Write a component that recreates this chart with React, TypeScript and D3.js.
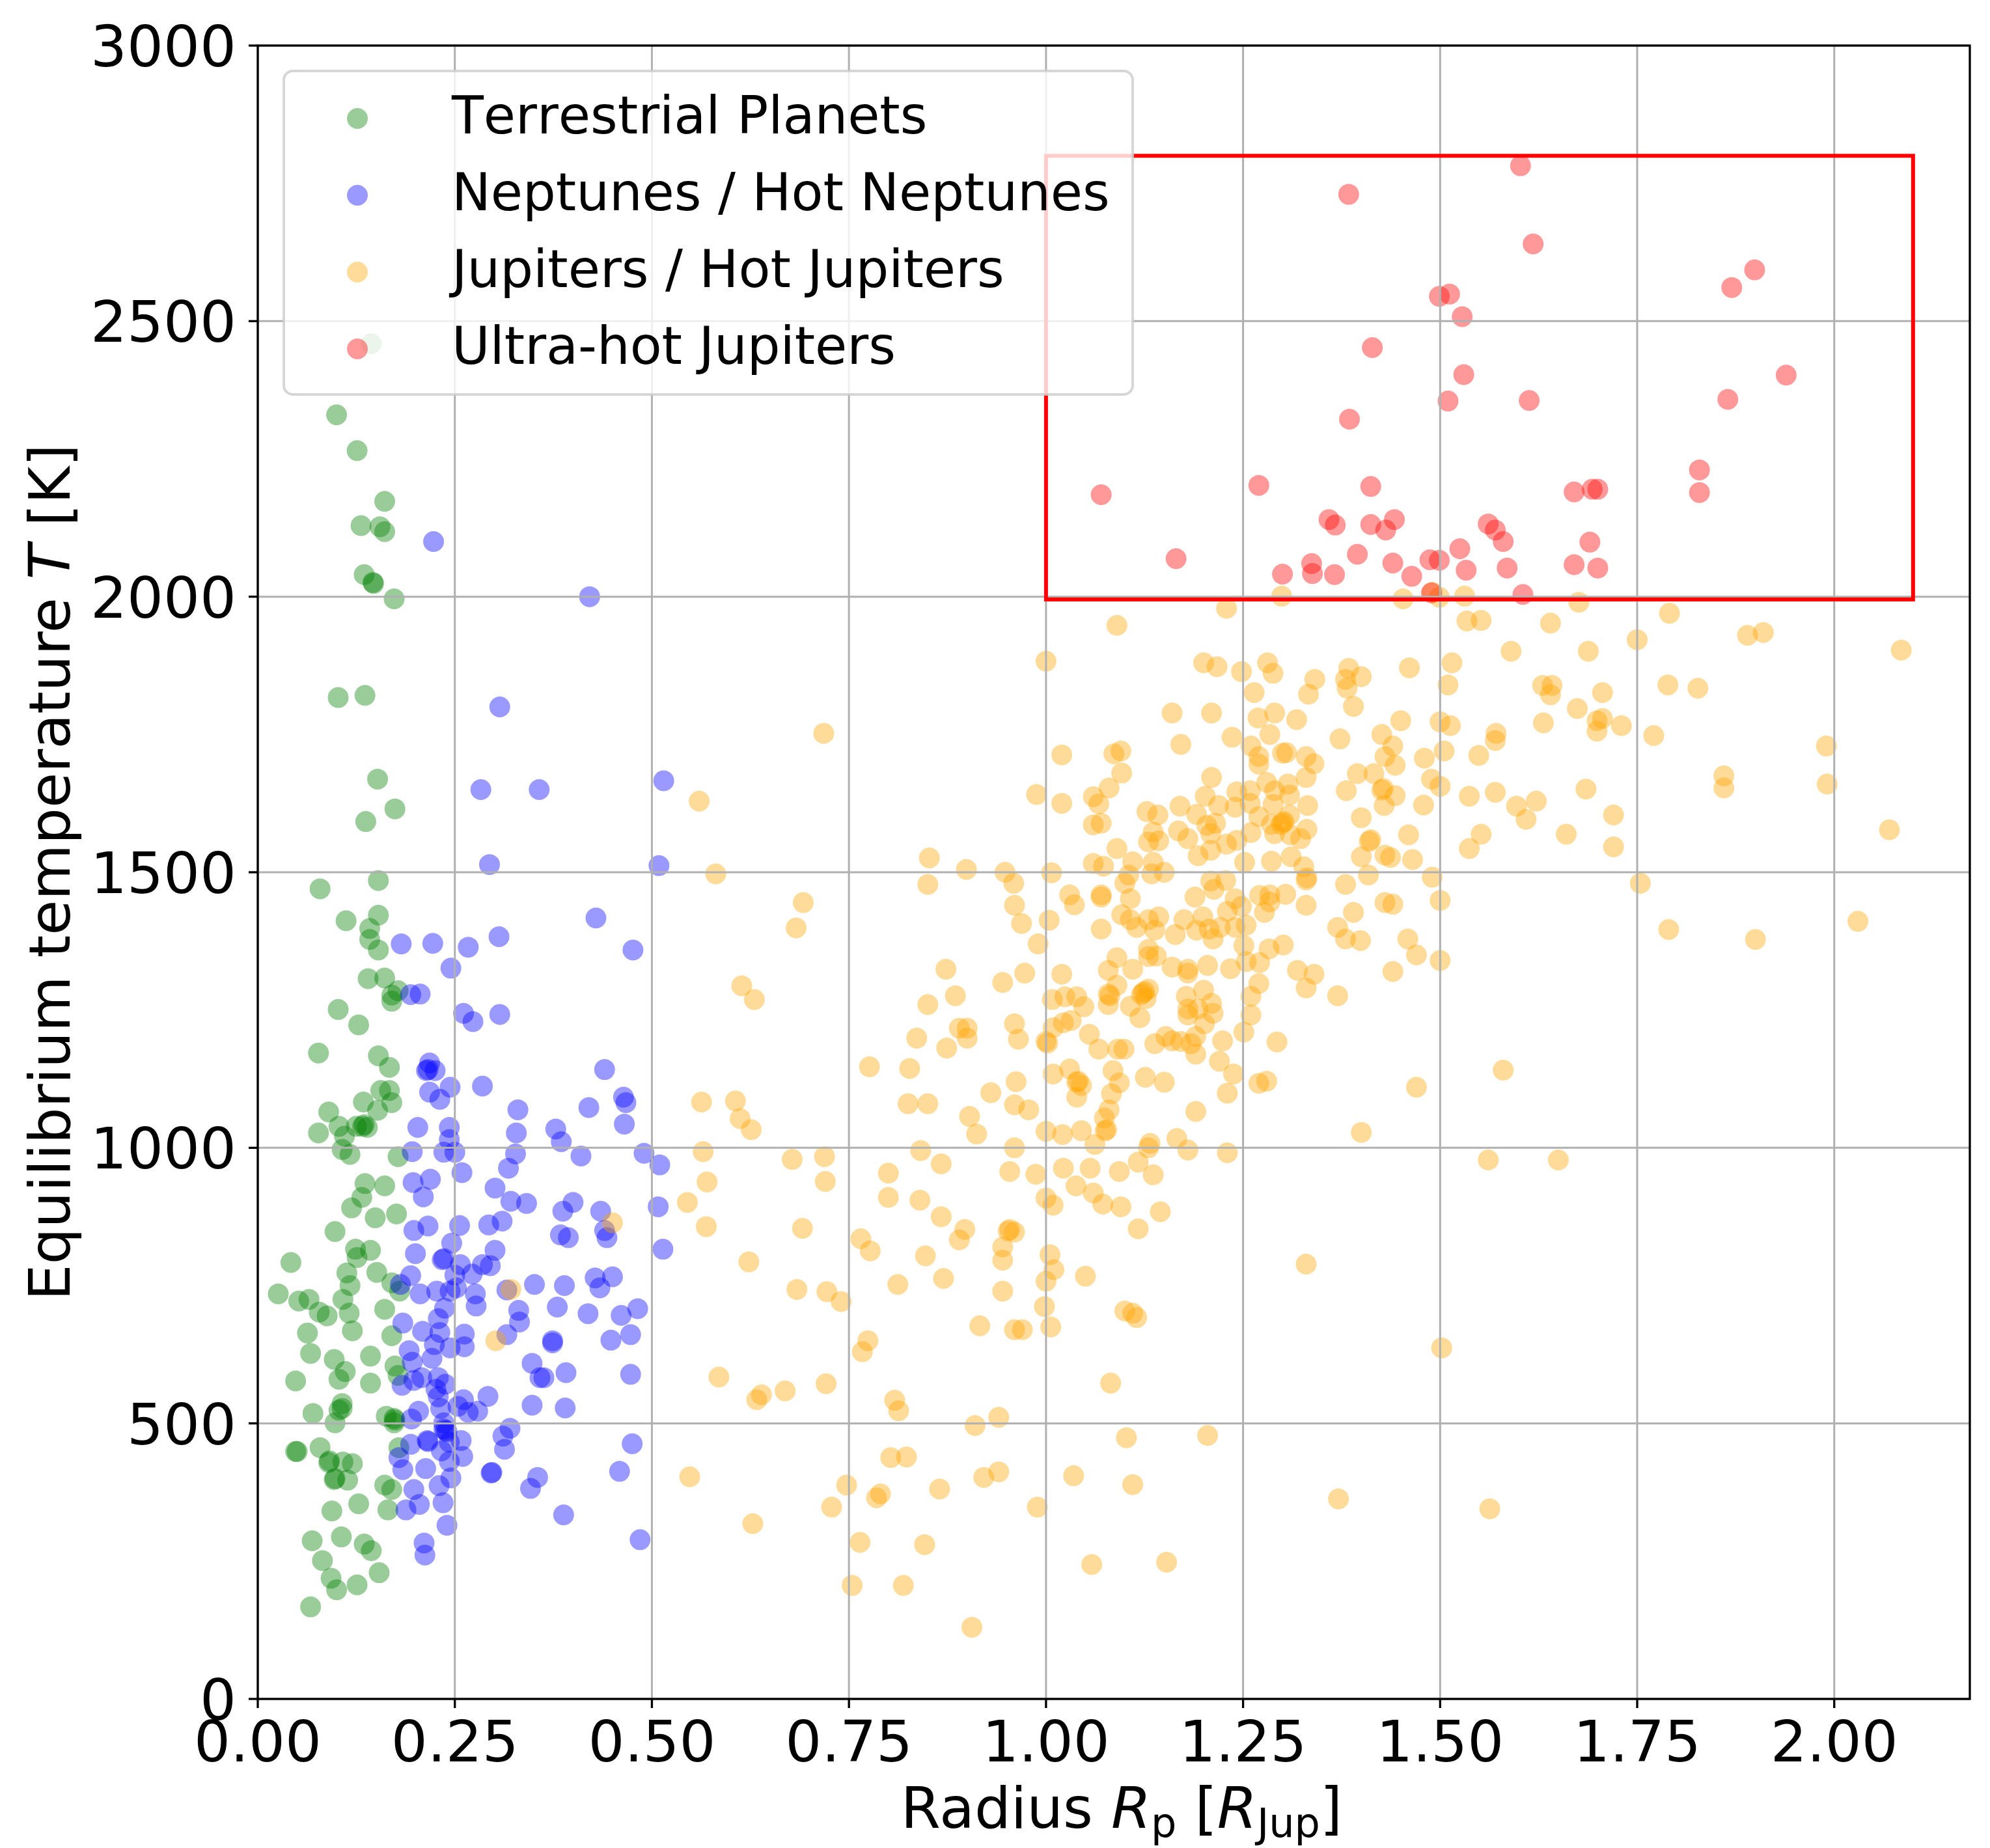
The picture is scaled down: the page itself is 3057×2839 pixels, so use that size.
import React from "react";
import * as d3 from "d3";

// ---------- data: [radius R_Jup, equilibrium temperature K] ----------
const terrestrial: [number, number][] = [
  [0.144,2459],[0.100,2330],[0.126,2265],[0.161,2173],[0.131,2129],[0.155,2127],[0.161,2118],[0.135,2040],[0.146,2026],[0.147,2024],[0.173,1996],[0.102,1817],[0.136,1821],[0.152,1669],[0.174,1615],[0.137,1592],
  [0.079,1470],[0.153,1485],[0.112,1412],[0.153,1422],[0.142,1398],[0.142,1378],[0.153,1359],[0.140,1307],[0.161,1308],[0.178,1285],[0.170,1277],[0.170,1266],[0.102,1251],[0.128,1223],[0.077,1172],[0.153,1167],[0.167,1146],[0.156,1104],[0.167,1104],[0.170,1082],[0.134,1083],[0.152,1068],[0.090,1065],[0.103,1039],[0.077,1027],[0.110,1021],[0.125,1039],[0.133,1039],[0.135,1042],[0.139,1037],[0.107,997],[0.117,988],[0.178,984],[0.136,935],[0.161,931],[0.132,910],[0.119,891],[0.149,873],[0.176,880],[0.098,848],[0.124,816],[0.143,814],[0.126,801],[0.042,792],[0.113,773],[0.151,774],[0.117,750],[0.170,755],[0.180,740],[0.026,735],[0.052,722],[0.065,725],[0.108,725],
  [0.088,695],[0.078,702],[0.116,700],[0.161,707],[0.063,664],[0.120,668],[0.170,659],[0.067,627],[0.097,616],[0.111,594],[0.103,580],[0.143,622],[0.143,573],[0.048,577],[0.174,604],[0.178,587],[0.070,518],[0.107,536],[0.107,527],[0.103,524],[0.098,501],[0.163,513],[0.173,509],[0.174,506],[0.173,501],[0.048,449],[0.050,449],[0.079,456],[0.090,429],[0.091,432],[0.108,430],[0.120,427],[0.097,398],[0.098,400],[0.114,397],[0.179,456],[0.161,388],[0.170,380],[0.128,354],[0.094,341],[0.165,343],[0.069,287],[0.106,294],[0.135,281],[0.144,269],[0.082,251],[0.154,229],[0.093,219],[0.126,207],[0.100,198],[0.067,167],
];

const neptunes: [number, number][] = [
  [0.223,2100],[0.421,2000],[0.307,1800],[0.283,1650],[0.357,1650],[0.515,1666],
  [0.294,1514],[0.509,1512],[0.182,1370],[0.222,1371],[0.267,1364],[0.306,1383],[0.429,1417],[0.476,1359],[0.245,1326],[0.194,1278],[0.206,1279],[0.261,1244],[0.273,1229],[0.307,1242],[0.218,1154],[0.214,1140],[0.216,1142],[0.225,1140],[0.244,1110],[0.218,1101],[0.231,1088],[0.285,1112],[0.440,1142],[0.464,1092],[0.467,1082],[0.420,1073],[0.465,1043],[0.330,1069],[0.328,1027],[0.327,989],[0.318,963],[0.378,1034],[0.385,1011],[0.410,985],[0.490,990],[0.510,969],[0.203,1037],[0.243,1037],[0.243,1015],[0.196,993],[0.236,992],[0.250,992],[0.259,955],[0.197,937],[0.219,943],[0.210,911],[0.301,927],[0.321,903],[0.341,899],[0.400,901],[0.387,885],[0.435,885],[0.508,893],[0.440,850],[0.443,837],[0.384,842],[0.394,837],[0.514,816],[0.216,858],[0.198,850],[0.256,859],[0.293,860],[0.310,867],[0.246,827],[0.200,808],[0.301,814],[0.234,797],[0.236,799],[0.257,788],[0.285,788],[0.295,786],[0.272,771],[0.250,769],[0.194,768],[0.181,752],[0.351,752],[0.389,750],[0.428,764],[0.450,766],[0.434,746],[0.316,742],[0.206,735],[0.227,740],[0.244,740],[0.252,746],[0.276,735],
  [0.277,713],[0.184,682],[0.229,690],[0.237,709],[0.209,667],[0.231,665],[0.224,643],[0.244,637],[0.262,662],[0.262,639],[0.192,632],[0.196,611],[0.221,618],[0.183,569],[0.198,578],[0.208,583],[0.229,583],[0.238,571],[0.226,562],[0.229,548],[0.232,527],[0.204,522],[0.195,508],[0.236,501],[0.261,543],[0.254,531],[0.267,520],[0.279,522],[0.292,549],[0.238,487],[0.240,485],[0.236,490],[0.215,469],[0.216,467],[0.194,462],[0.243,466],[0.258,469],[0.233,450],[0.243,431],[0.260,440],[0.184,416],[0.179,438],[0.213,418],[0.230,387],[0.245,401],[0.198,380],[0.205,353],[0.188,343],[0.235,356],[0.240,315],[0.211,283],[0.212,261],[0.320,491],[0.311,477],[0.313,453],[0.296,410],[0.297,411],[0.355,402],[0.346,382],[0.388,334],[0.475,463],[0.459,413],[0.485,289],[0.331,705],[0.332,684],[0.316,661],[0.380,711],[0.419,699],[0.461,696],[0.482,708],[0.448,651],[0.473,661],[0.374,646],[0.374,650],[0.348,609],[0.358,583],[0.363,583],[0.391,592],[0.473,589],[0.348,533],[0.390,528],
];

const jupiters: [number, number][] = [
  [0.450,864],[0.321,743],[0.302,650],
  [0.718,1752],[0.560,1629],[0.581,1497],[0.692,1445],[0.683,1399],[0.614,1294],[0.630,1269],[0.563,1083],[0.606,1085],[0.612,1053],[0.626,1033],[0.565,993],[0.570,938],[0.545,901],[0.569,857],[0.678,979],[0.719,984],[0.720,939],[0.691,854],[0.623,793],[0.684,743],[0.722,739],[0.740,721],[0.585,584],[0.633,543],[0.639,552],[0.669,559],[0.721,572],[0.548,403],[0.628,318],[0.728,348],[0.747,388],[0.852,1526],[0.850,1478],[0.899,1505],[0.873,1324],[0.885,1276],[0.850,1260],[0.836,1199],[0.890,1217],[0.900,1217],[0.900,1199],[0.874,1181],[0.776,1147],[0.827,1144],[0.825,1080],[0.850,1080],[0.903,1057],[0.912,1025],[0.930,1100],[0.841,995],[0.867,971],[0.800,954],[0.800,910],[0.840,905],[0.867,875],[0.897,852],[0.890,833],[0.847,804],[0.870,763],[0.765,835],[0.777,813],[0.812,752],[0.916,677],[0.774,650],[0.767,630],[0.808,542],[0.813,523],[0.910,496],[0.940,511],[0.803,438],[0.823,439],[0.785,365],[0.790,372],[0.865,381],[0.921,402],[0.940,412],[0.764,284],[0.846,280],[0.754,206],[0.819,206],[0.906,130],
  [1.090,1948],[1.000,1883],[1.200,1880],[1.217,1873],[1.248,1864],[1.281,1880],[1.288,1861],[1.341,1850],[1.333,1823],[1.264,1826],[1.384,1870],[1.380,1850],[1.400,1855],[1.382,1834],[1.390,1801],[1.461,1871],[1.515,1880],[1.510,1840],
  [1.160,1789],[1.210,1789],[1.269,1780],[1.290,1789],[1.318,1777],[1.236,1745],[1.284,1750],[1.260,1729],[1.270,1710],[1.270,1696],[1.300,1716],[1.305,1717],[1.330,1710],[1.340,1697],[1.330,1672],[1.171,1732],[1.373,1742],[1.450,1775],[1.426,1750],[1.440,1729],[1.430,1710],[1.443,1694],[1.500,1773],[1.513,1766],[1.505,1720],[1.480,1707],
  [1.395,1679],[1.416,1679],[1.426,1649],[1.428,1652],[1.381,1648],[1.443,1639],[1.429,1621],[1.489,1669],[1.500,1656],[1.479,1622],
  [1.400,1599],[1.460,1568],[1.410,1556],[1.412,1559],[1.400,1528],[1.430,1531],[1.437,1527],[1.465,1523],
  [1.409,1495],[1.490,1491],[1.380,1478],[1.430,1445],[1.440,1442],[1.500,1449],[1.390,1427],[1.370,1400],[1.380,1379],[1.399,1376],[1.459,1379],[1.470,1350],[1.500,1340],[1.440,1320],[1.340,1315],[1.319,1322],
  [1.210,1672],[1.202,1638],[1.219,1621],[1.242,1646],[1.240,1618],[1.259,1648],[1.259,1625],[1.280,1663],[1.290,1648],[1.307,1660],[1.309,1640],[1.288,1623],[1.332,1621],[1.270,1601],[1.309,1604],[1.300,1590],[1.302,1592],[1.298,1587],[1.286,1587],[1.331,1578],[1.290,1570],[1.310,1568],[1.323,1561],[1.260,1572],[1.170,1620],[1.191,1605],[1.215,1589],[1.204,1585],[1.209,1570],[1.168,1575],[1.180,1561],[1.128,1610],[1.142,1604],[1.136,1573],[1.130,1555],[1.143,1557],[1.095,1720],[1.086,1715],[1.096,1680],[1.080,1653],[1.060,1637],[1.067,1624],[1.020,1713],[1.020,1625],[0.988,1641],[1.060,1586],[1.070,1589],[1.090,1543],[1.060,1516],[1.073,1511],[1.110,1519],[1.136,1518],[1.150,1500],[1.134,1497],[1.105,1495],[1.100,1480],[1.107,1452],[1.007,1499],[0.948,1500],[0.959,1480],[1.030,1459],[1.036,1441],[1.070,1455],[1.070,1459],[0.960,1440],[0.969,1407],[1.004,1413],[0.990,1370],[1.070,1397],[1.096,1423],[1.107,1414],[1.130,1414],[1.143,1419],[1.115,1400],[1.138,1395],[1.164,1387],[1.175,1414],[1.199,1419],[1.191,1395],[1.207,1397],[1.212,1379],[1.221,1400],[1.230,1429],[1.240,1400],[1.248,1438],[1.254,1404],[1.189,1455],[1.209,1484],[1.213,1469],[1.228,1485],[1.240,1452],[1.271,1458],[1.284,1459],[1.284,1446],[1.304,1460],[1.277,1427],[1.330,1486],[1.331,1490],[1.330,1440],[1.251,1367],[1.283,1361],[1.301,1368],[1.130,1360],[1.130,1347],[1.140,1348],[1.090,1345],[1.079,1322],[1.110,1324],[1.160,1328],[1.180,1324],[1.205,1331],[1.234,1325],[1.254,1338],[1.271,1336],[1.180,1317],[0.973,1317],[1.020,1315],[0.945,1300],[1.311,1528],[1.286,1520],[1.252,1518],[1.327,1510],[1.193,1530],[1.209,1540],[1.229,1551],[1.242,1558],
  [1.008,1269],[1.024,1274],[1.039,1274],[1.048,1256],[1.079,1279],[1.081,1276],[1.090,1295],[1.079,1260],[1.107,1257],[1.123,1281],[1.125,1284],[1.121,1278],[1.130,1288],[1.127,1271],[1.119,1236],[1.178,1275],[1.200,1286],[1.210,1262],[1.180,1252],[1.193,1252],[1.212,1244],[1.180,1241],[1.201,1225],[1.260,1275],[1.270,1298],[1.260,1241],[1.251,1210],[1.330,1290],[1.370,1276],[0.960,1225],[0.965,1197],[1.000,1193],[1.002,1190],[1.009,1218],[1.022,1227],[1.032,1231],[1.055,1206],[1.067,1179],[1.091,1179],[1.099,1179],[1.138,1189],[1.152,1202],[1.160,1194],[1.171,1193],[1.184,1189],[1.190,1202],[1.190,1170],[1.224,1194],[1.220,1157],[1.238,1134],[1.230,1099],[1.293,1192],[1.270,1117],[1.280,1121],[1.470,1110],[0.962,1120],[1.009,1134],[1.030,1143],[1.039,1119],[1.041,1121],[1.045,1113],[1.039,1092],[1.085,1140],[1.093,1118],[1.083,1098],[1.126,1128],[1.150,1119],[0.960,1078],[0.978,1069],[1.080,1069],[1.074,1054],[1.075,1031],[1.077,1033],[1.000,1030],[1.021,1024],[1.045,1031],[1.062,1006],[1.190,1066],[1.132,1008],[1.130,1000],[1.166,1017],[1.180,996],[1.230,991],[1.400,1028],[0.960,1000],[0.954,957],[0.987,952],[1.022,963],[1.056,963],[1.093,957],[1.117,974],[1.136,951],[1.038,931],[1.060,918],[1.072,898],[1.095,893],[1.000,909],[1.009,896],[1.145,884],[1.117,853],[0.952,849],[0.954,852],[0.960,847],[0.945,820],[0.945,796],[1.005,806],[1.010,779],[1.000,758],[1.050,767],[1.330,789],[0.945,740],[0.998,712],[1.006,675],[1.100,704],[1.110,700],[1.115,692],[0.960,670],[0.970,670],[1.502,637],
  [1.531,2001],[1.676,1990],[1.534,1956],[1.552,1957],[1.640,1952],[1.590,1901],[1.688,1901],[1.791,1970],[1.750,1922],[1.890,1930],[1.910,1935],[2.085,1903],[1.630,1839],[1.642,1839],[1.640,1822],[1.706,1826],[1.674,1797],[1.631,1771],[1.699,1775],[1.706,1779],[1.699,1756],[1.730,1766],[1.789,1840],[1.827,1834],[1.771,1748],[1.571,1752],[1.570,1739],[1.549,1712],[1.537,1638],[1.570,1645],[1.597,1620],[1.622,1629],[1.609,1596],[1.685,1651],[1.720,1604],[1.552,1569],[1.537,1543],[1.660,1569],[1.720,1546],[1.990,1729],[1.991,1660],[1.860,1675],[1.860,1653],[2.070,1577],[1.754,1480],[1.790,1396],[1.900,1378],[2.030,1411],[1.580,1141],[1.561,978],[1.650,978],
  [1.299,2001],[1.453,1996],[1.499,1999],[1.229,1979],[1.490,2008],
  [1.082,573],[1.102,474],[1.110,389],[1.205,478],[1.153,248],[1.058,244],[1.035,405],[0.989,348],[1.371,363],[1.563,345],
];

const ultraHot: [number, number][] = [
  [1.602,2782],[1.384,2730],[1.618,2640],[1.899,2593],[1.870,2561],[1.499,2545],[1.512,2549],[1.528,2508],[1.414,2452],[1.530,2403],[1.939,2402],[1.510,2355],[1.613,2356],[1.865,2358],[1.385,2322],[1.829,2230],[1.829,2189],[1.070,2185],[1.270,2202],[1.412,2200],[1.670,2190],[1.693,2195],[1.700,2195],[1.359,2140],[1.367,2130],[1.412,2131],[1.442,2140],[1.431,2121],[1.561,2132],[1.570,2121],[1.580,2100],[1.690,2099],[1.165,2069],[1.337,2060],[1.300,2041],[1.338,2042],[1.366,2040],[1.395,2077],[1.440,2061],[1.464,2037],[1.487,2067],[1.499,2066],[1.525,2087],[1.533,2048],[1.585,2052],[1.670,2058],[1.700,2052],[1.605,2004],[1.489,2007],
];

const seriesNames = ["Terrestrial Planets", "Neptunes / Hot Neptunes", "Jupiters / Hot Jupiters", "Ultra-hot Jupiters"];
const seriesColors = ["green", "blue", "orange", "red"];
const xTicks = [0, 0.25, 0.5, 0.75, 1.0, 1.25, 1.5, 1.75, 2.0];
const yTicks = [0, 500, 1000, 1500, 2000, 2500, 3000];
const boxR = [1.0, 2.1];
const boxT = [1995, 2800];

const W = 3057, H = 2839;
const L = 396, R = 3026, T = 70, B = 2610;
const FONT = "DejaVu Sans";

export default function App() {
  const x = d3.scaleLinear().domain([0, 2.172]).range([L, R]);
  const y = d3.scaleLinear().domain([0, 3000]).range([B, T]);
  const fmtX = d3.format(".2f");
  const series = [terrestrial, neptunes, jupiters, ultraHot];
  const rad = 16;
  const legendRows = [182, 300, 418, 536];

  return (
    <svg width={W} height={H} style={{ position: "absolute", left: 0, top: 0, background: "white" }} fontFamily={FONT}>
      <rect x={0} y={0} width={W} height={H} fill="white" />
      {series.map((s, i) => (
        <g key={i} fill={seriesColors[i]} fillOpacity={0.4}>
          {s.map((d, j) => (
            <circle key={j} cx={x(d[0])} cy={y(d[1])} r={rad} />
          ))}
        </g>
      ))}
      {/* grid */}
      <g stroke="#b0b0b0" strokeWidth={3}>
        {xTicks.map((t) => (
          <line key={"gx" + t} x1={x(t)} x2={x(t)} y1={T} y2={B} />
        ))}
        {yTicks.map((t) => (
          <line key={"gy" + t} x1={L} x2={R} y1={y(t)} y2={y(t)} />
        ))}
      </g>
      {/* region box */}
      <rect x={x(boxR[0])} y={y(boxT[1])} width={x(boxR[1]) - x(boxR[0])} height={y(boxT[0]) - y(boxT[1])}
        fill="none" stroke="red" strokeWidth={6} />
      {/* spines */}
      <rect x={L} y={T} width={R - L} height={B - T} fill="none" stroke="black" strokeWidth={3.3} />
      {/* ticks */}
      <g stroke="black" strokeWidth={3.3}>
        {xTicks.map((t) => (
          <line key={"tx" + t} x1={x(t)} x2={x(t)} y1={B} y2={B + 14} />
        ))}
        {yTicks.map((t) => (
          <line key={"ty" + t} x1={L - 14} x2={L} y1={y(t)} y2={y(t)} />
        ))}
      </g>
      <g fontSize={88} fill="black">
        {xTicks.map((t) => (
          <text key={"lx" + t} x={x(t)} y={2706} textAnchor="middle">{fmtX(t)}</text>
        ))}
        {yTicks.map((t) => (
          <text key={"ly" + t} x={363} y={y(t) + 32} textAnchor="end">{String(t)}</text>
        ))}
      </g>
      {/* axis labels */}
      <text x={1723} y={2808} textAnchor="middle" fontSize={88} style={{ whiteSpace: "pre" }}>
        {"Radius "}
        <tspan fontStyle="italic">R</tspan>
        <tspan fontSize={62} dy={14}>p</tspan>
        <tspan dy={-14}>{" ["}</tspan>
        <tspan fontStyle="italic">R</tspan>
        <tspan fontSize={62} dy={14}>Jup</tspan>
        <tspan dy={-14}>]</tspan>
      </text>
      <text transform={`translate(107, ${(T + B) / 2}) rotate(-90)`} textAnchor="middle" fontSize={88} style={{ whiteSpace: "pre" }}>
        {"Equilibrium temperature "}
        <tspan fontStyle="italic">T</tspan>
        {" [K]"}
      </text>
      {/* legend */}
      <rect x={436} y={109} width={1304} height={497} rx={14} ry={14} fill="white" fillOpacity={0.8}
        stroke="#cccccc" strokeOpacity={0.8} strokeWidth={4} />
      {seriesNames.map((name, i) => (
        <g key={name}>
          <circle cx={549} cy={legendRows[i]} r={rad} fill={seriesColors[i]} fillOpacity={0.4} />
          <text x={694} y={legendRows[i] + 23} fontSize={80} style={{ fontKerning: "none" }}>{name}</text>
        </g>
      ))}
    </svg>
  );
}
